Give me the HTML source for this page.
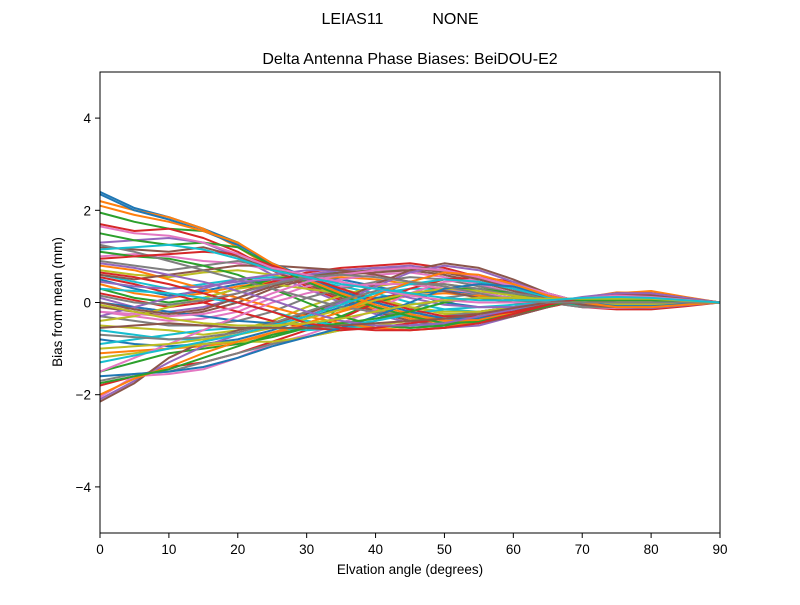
<!DOCTYPE html>
<html><head><meta charset="utf-8"><style>
body{margin:0;background:#fff;}
svg text{font-family:"Liberation Sans",sans-serif;fill:#000;}
</style></head><body>
<svg id="chart" width="800" height="600" xmlns="http://www.w3.org/2000/svg">
<rect width="800" height="600" fill="#fff"/>
<text x="400" y="24" font-size="16" text-anchor="middle" xml:space="preserve">LEIAS11           NONE</text>
<text x="410" y="64" font-size="16" text-anchor="middle">Delta Antenna Phase Biases: BeiDOU-E2</text>
<g id="lines"></g>
<rect x="100" y="72" width="620" height="461" fill="none" stroke="#000" stroke-width="1"/>
<g id="xticks"></g>
<g id="yticks"></g>
<text x="410" y="574" font-size="13.5" text-anchor="middle">Elvation angle (degrees)</text>
<text x="62" y="302" font-size="13.5" text-anchor="middle" transform="rotate(-90 62 302)">Bias from mean (mm)</text>
</svg>
<script>
const elevations=[0,5,10,15,20,25,30,35,40,45,50,55,60,65,70,75,80,85,90];
const xTickLabels=[0,10,20,30,40,50,60,70,80,90];
const yTickLabels=[-4,-2,0,2,4];
const s1=[2.4,2.05,1.85,1.6,1.3,0.8,0.5,0.2,-0.1,-0.3,-0.45,-0.4,-0.25,-0.1,0.1,0.2,0.15,0.08,0];
const s2=[2.2,2.0,1.85,1.6,1.2,0.75,0.4,0.1,-0.15,-0.35,-0.45,-0.4,-0.25,-0.1,0.05,0.15,0.12,0.06,0];
const s3=[1.95,1.75,1.6,1.55,1.3,0.8,0.45,0.15,-0.1,-0.3,-0.4,-0.35,-0.2,-0.05,0.1,0.2,0.15,0.07,0];
const s4=[1.7,1.55,1.6,1.4,1.1,0.7,0.35,0.05,-0.2,-0.4,-0.5,-0.45,-0.3,-0.1,0.05,0.2,0.15,0.07,0];
const s5=[1.3,1.35,1.4,1.3,1.0,0.6,0.3,0.0,-0.25,-0.45,-0.55,-0.5,-0.3,-0.1,0.1,0.2,0.18,0.08,0];
const s6=[1.2,1.15,1.1,1.2,1.0,0.7,0.4,0.1,-0.2,-0.4,-0.5,-0.45,-0.3,-0.1,0.08,0.2,0.2,0.1,0];
const s7=[1.0,1.05,1.0,0.9,0.85,0.7,0.5,0.2,-0.1,-0.3,-0.4,-0.35,-0.2,-0.05,0.1,0.2,0.2,0.1,0];
const s8=[0.9,0.8,0.7,0.8,0.9,0.75,0.5,0.25,0.0,-0.2,-0.35,-0.3,-0.2,-0.05,0.1,0.2,0.2,0.1,0];
const s9=[0.7,0.6,0.55,0.65,0.7,0.6,0.45,0.3,0.1,-0.1,-0.25,-0.25,-0.15,0.0,0.1,0.15,0.15,0.08,0];
const s10=[0.6,0.45,0.3,0.4,0.5,0.55,0.5,0.35,0.2,0.0,-0.15,-0.2,-0.15,-0.05,0.05,0.15,0.15,0.08,0];
const s11=[0.5,0.3,0.15,0.25,0.4,0.5,0.55,0.5,0.35,0.2,0.0,-0.1,-0.1,-0.05,0.05,0.1,0.1,0.05,0];
const s12=[0.4,0.2,0.1,0.2,0.35,0.45,0.5,0.55,0.5,0.4,0.3,0.15,0.0,-0.05,0.0,0.05,0.05,0.03,0];
const s13=[0.3,0.1,0.0,0.1,0.3,0.5,0.6,0.65,0.7,0.7,0.6,0.4,0.2,0.0,-0.1,-0.1,-0.1,-0.05,0];
const s14=[0.2,0.05,-0.1,0.0,0.2,0.45,0.65,0.75,0.8,0.85,0.75,0.55,0.3,0.05,-0.1,-0.15,-0.15,-0.08,0];
const s15=[0.1,-0.1,-0.2,-0.1,0.1,0.4,0.6,0.7,0.75,0.8,0.7,0.5,0.3,0.05,-0.1,-0.12,-0.12,-0.06,0];
const s16=[-0.1,-0.2,-0.3,-0.2,0.0,0.3,0.5,0.6,0.65,0.7,0.6,0.45,0.25,0.05,-0.05,-0.1,-0.1,-0.05,0];
const s17=[-0.2,-0.3,-0.4,-0.35,-0.2,0.1,0.35,0.5,0.6,0.65,0.55,0.4,0.2,0.0,-0.1,-0.12,-0.1,-0.05,0];
const s18=[-0.3,-0.4,-0.5,-0.5,-0.4,-0.2,0.1,0.3,0.45,0.55,0.5,0.35,0.2,0.0,-0.1,-0.1,-0.1,-0.05,0];
const s19=[-0.5,-0.55,-0.6,-0.7,-0.6,-0.4,-0.1,0.15,0.35,0.45,0.4,0.3,0.15,0.0,-0.05,-0.1,-0.08,-0.04,0];
const s20=[-0.6,-0.7,-0.8,-0.8,-0.7,-0.5,-0.2,0.0,0.2,0.3,0.3,0.2,0.1,0.0,-0.05,-0.05,-0.05,-0.03,0];
const s21=[-0.8,-0.9,-0.95,-0.9,-0.8,-0.6,-0.35,-0.1,0.1,0.2,0.25,0.2,0.1,0.0,0.0,-0.05,-0.05,-0.03,0];
const s22=[-1.1,-1.05,-1.0,-0.95,-0.85,-0.7,-0.45,-0.2,0.0,0.15,0.2,0.15,0.1,0.0,0.0,0.0,0.0,0.0,0];
const s23=[-1.5,-1.3,-1.1,-1.0,-0.9,-0.75,-0.55,-0.3,0.0,0.2,0.3,0.3,0.2,0.05,-0.05,-0.1,-0.1,-0.05,0];
const s24=[-1.8,-1.6,-1.4,-1.3,-1.1,-0.85,-0.6,-0.35,0.0,0.3,0.5,0.55,0.45,0.2,0.0,-0.1,-0.12,-0.06,0];
const s25=[-2.1,-1.7,-1.3,-0.95,-0.7,-0.5,-0.3,0.0,0.35,0.65,0.8,0.7,0.45,0.2,0.0,-0.1,-0.12,-0.06,0];
const s26=[-2.15,-1.75,-1.2,-0.85,-0.6,-0.45,-0.25,0.05,0.4,0.7,0.85,0.75,0.5,0.2,0.0,-0.1,-0.1,-0.05,0];
const s27=[-2.05,-1.6,-1.55,-1.45,-1.2,-0.9,-0.7,-0.45,-0.15,0.2,0.45,0.5,0.4,0.2,0.0,-0.1,-0.1,-0.05,0];
const s28=[-1.7,-1.55,-1.5,-1.3,-1.1,-0.9,-0.75,-0.6,-0.4,-0.15,0.1,0.2,0.2,0.1,0.0,-0.05,-0.05,-0.03,0];
const s29=[-1.2,-1.1,-1.0,-0.9,-0.85,-0.85,-0.75,-0.6,-0.5,-0.4,-0.3,-0.2,-0.1,0.0,0.05,0.1,0.1,0.05,0];
const s30=[-0.9,-0.8,-0.7,-0.6,-0.55,-0.55,-0.6,-0.55,-0.5,-0.5,-0.45,-0.3,-0.15,0.0,0.1,0.15,0.15,0.08,0];
const s31=[0.0,-0.1,-0.2,-0.3,-0.4,-0.45,-0.5,-0.5,-0.5,-0.55,-0.5,-0.35,-0.2,-0.05,0.1,0.2,0.2,0.1,0];
const s32=[0.8,0.7,0.5,0.3,0.1,-0.1,-0.3,-0.45,-0.55,-0.6,-0.55,-0.4,-0.2,-0.05,0.1,0.2,0.25,0.12,0];
const s33=[1.1,1.0,0.95,0.8,0.6,0.3,0.0,-0.3,-0.5,-0.55,-0.5,-0.35,-0.2,0.0,0.1,0.2,0.2,0.1,0];
const s34=[0.55,0.4,0.2,0.0,-0.2,-0.4,-0.55,-0.6,-0.55,-0.45,-0.35,-0.2,-0.1,0.0,0.1,0.15,0.15,0.08,0];
const s35=[-0.3,-0.1,0.1,0.3,0.5,0.6,0.7,0.7,0.75,0.75,0.7,0.55,0.35,0.1,-0.05,-0.1,-0.1,-0.05,0];
const s36=[0.6,0.5,0.6,0.7,0.8,0.8,0.75,0.7,0.6,0.45,0.25,0.1,0.0,-0.05,0.0,0.05,0.05,0.03,0];
const s37=[-1.5,-1.2,-0.9,-0.6,-0.3,0.0,0.2,0.35,0.4,0.4,0.3,0.2,0.1,0.0,0.0,0.0,0.0,0.0,0];
const s38=[1.25,1.1,0.9,0.7,0.5,0.3,0.1,-0.1,-0.2,-0.3,-0.3,-0.2,-0.1,0.0,0.1,0.15,0.15,0.08,0];
const s39=[-0.4,-0.3,-0.1,0.1,0.3,0.4,0.3,0.2,0.05,-0.1,-0.2,-0.2,-0.1,0.0,0.05,0.1,0.1,0.05,0];
const s40=[0.3,0.25,0.2,0.1,0.0,-0.2,-0.4,-0.5,-0.4,-0.25,-0.15,-0.1,-0.05,0.0,0.05,0.1,0.1,0.05,0];
const s41=[2.35,2.0,1.8,1.55,1.25,0.85,0.55,0.25,0.0,-0.2,-0.35,-0.35,-0.2,-0.05,0.1,0.2,0.18,0.08,0];
const s42=[2.1,1.9,1.75,1.55,1.3,0.85,0.5,0.2,-0.05,-0.25,-0.4,-0.38,-0.22,-0.05,0.1,0.22,0.2,0.1,0];
const s43=[1.5,1.35,1.25,1.3,1.2,0.8,0.45,0.15,-0.1,-0.3,-0.45,-0.42,-0.25,-0.08,0.1,0.2,0.18,0.08,0];
const s44=[0.95,1.0,1.05,1.1,1.05,0.8,0.55,0.3,0.05,-0.15,-0.3,-0.3,-0.2,-0.05,0.1,0.18,0.18,0.09,0];
const s45=[0.45,0.35,0.3,0.35,0.45,0.5,0.5,0.45,0.3,0.1,-0.05,-0.1,-0.1,0.0,0.1,0.15,0.15,0.07,0];
const s46=[0.0,-0.15,-0.25,-0.15,0.1,0.35,0.55,0.65,0.7,0.75,0.65,0.5,0.3,0.1,-0.05,-0.1,-0.1,-0.05,0];
const s47=[-0.2,-0.25,-0.3,-0.25,-0.1,0.2,0.45,0.6,0.7,0.75,0.7,0.55,0.35,0.12,0.0,-0.08,-0.08,-0.04,0];
const s48=[-0.7,-0.75,-0.8,-0.75,-0.65,-0.45,-0.2,0.05,0.25,0.4,0.4,0.3,0.15,0.05,0.0,-0.05,-0.05,-0.02,0];
const s49=[-1.0,-0.95,-0.9,-0.8,-0.7,-0.55,-0.35,-0.15,0.05,0.2,0.3,0.25,0.15,0.05,0.0,-0.03,-0.03,-0.02,0];
const s50=[-1.3,-1.15,-1.0,-0.85,-0.7,-0.5,-0.3,-0.05,0.2,0.4,0.5,0.45,0.3,0.12,0.0,-0.08,-0.08,-0.04,0];
const s51=[-1.6,-1.55,-1.5,-1.4,-1.2,-0.95,-0.75,-0.55,-0.3,0.0,0.3,0.4,0.35,0.15,0.0,-0.08,-0.08,-0.04,0];
const s52=[-2.0,-1.65,-1.4,-1.1,-0.85,-0.65,-0.45,-0.2,0.15,0.45,0.65,0.6,0.4,0.15,0.0,-0.1,-0.1,-0.05,0];
const s53=[-1.75,-1.6,-1.45,-1.2,-0.95,-0.7,-0.55,-0.45,-0.35,-0.2,0.0,0.1,0.1,0.05,0.05,0.05,0.05,0.02,0];
const s54=[0.65,0.55,0.4,0.2,0.0,-0.2,-0.45,-0.55,-0.6,-0.6,-0.55,-0.45,-0.25,-0.05,0.1,0.2,0.2,0.1,0];
const s55=[0.85,0.75,0.6,0.45,0.25,0.05,-0.2,-0.4,-0.5,-0.5,-0.45,-0.3,-0.15,0.0,0.12,0.2,0.2,0.1,0];
const s56=[-0.55,-0.5,-0.45,-0.5,-0.55,-0.55,-0.55,-0.5,-0.45,-0.4,-0.35,-0.25,-0.12,0.0,0.1,0.15,0.15,0.07,0];
const s57=[1.65,1.5,1.45,1.3,1.05,0.75,0.6,0.45,0.3,0.15,0.05,0.0,0.0,0.05,0.1,0.15,0.12,0.06,0];
const s58=[0.15,0.0,-0.05,0.05,0.2,0.4,0.55,0.6,0.55,0.45,0.35,0.2,0.05,0.0,0.0,0.0,0.0,0.0,0];
const s59=[-0.05,-0.2,-0.35,-0.45,-0.5,-0.5,-0.45,-0.35,-0.2,-0.05,0.05,0.1,0.1,0.08,0.08,0.08,0.08,0.04,0];
const s60=[1.15,1.2,1.25,1.15,0.95,0.7,0.55,0.4,0.3,0.2,0.1,0.05,0.05,0.05,0.1,0.12,0.1,0.05,0];
const seriesList=[s1,s2,s3,s4,s5,s6,s7,s8,s9,s10,s11,s12,s13,s14,s15,s16,s17,s18,s19,s20,s21,s22,s23,s24,s25,s26,s27,s28,s29,s30,s31,s32,s33,s34,s35,s36,s37,s38,s39,s40,s41,s42,s43,s44,s45,s46,s47,s48,s49,s50,s51,s52,s53,s54,s55,s56,s57,s58,s59,s60];
const colors=['#1f77b4','#ff7f0e','#2ca02c','#d62728','#9467bd','#8c564b','#e377c2','#7f7f7f','#bcbd22','#17becf'];
const NS='http://www.w3.org/2000/svg';
function xs(v){return 100+(v-0)/90*620;}
function ys(v){return 533-(v+5)/10*461;}
const lg=document.getElementById('lines');
seriesList.forEach((s,i)=>{
  const p=document.createElementNS(NS,'polyline');
  p.setAttribute('points',s.map((v,j)=>xs(elevations[j]).toFixed(1)+','+ys(v).toFixed(1)).join(' '));
  p.setAttribute('fill','none');
  p.setAttribute('stroke',colors[i%10]);
  p.setAttribute('stroke-width','2');
  p.setAttribute('stroke-linejoin','round');
  
  
  lg.appendChild(p);
});
const xg=document.getElementById('xticks');
xTickLabels.forEach(v=>{
  const l=document.createElementNS(NS,'line');
  l.setAttribute('x1',xs(v));l.setAttribute('x2',xs(v));l.setAttribute('y1',533);l.setAttribute('y2',538);l.setAttribute('stroke','#000');
  
  
  xg.appendChild(l);
  const t=document.createElementNS(NS,'text');
  t.setAttribute('x',xs(v));t.setAttribute('y',554);t.setAttribute('font-size','13.5');t.setAttribute('text-anchor','middle');
  t.textContent=v;
  
  
  xg.appendChild(t);
});
const yg=document.getElementById('yticks');
yTickLabels.forEach(v=>{
  const l=document.createElementNS(NS,'line');
  l.setAttribute('x1',95);l.setAttribute('x2',100);l.setAttribute('y1',ys(v));l.setAttribute('y2',ys(v));l.setAttribute('stroke','#000');
  
  
  yg.appendChild(l);
  const t=document.createElementNS(NS,'text');
  t.setAttribute('x',91);t.setAttribute('y',ys(v)+5);t.setAttribute('font-size','13.5');t.setAttribute('text-anchor','end');
  t.textContent=v<0?'\u2212'+Math.abs(v):String(v);
  
  
  yg.appendChild(t);
});
</script>
</body></html>
